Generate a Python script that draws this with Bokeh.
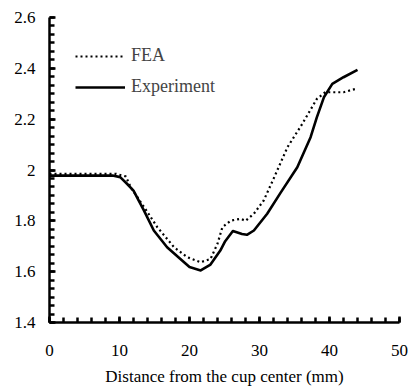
from bokeh.plotting import figure
from bokeh.models import Range1d, Legend, LegendItem, CustomJSTickFormatter, SingleIntervalTicker
from bokeh.embed import file_html
from bokeh.resources import INLINE

fea_x = [0, 9.5, 10.9, 11.6, 14, 15.4, 17.8, 19.7, 21.6, 23, 24, 24.7, 25.9, 27.3, 28, 29.2, 30.6, 32, 34, 36.1, 38.2, 39.4, 42, 43.7]
fea_y = [1.985, 1.985, 1.975, 1.932, 1.834, 1.775, 1.696, 1.657, 1.637, 1.65, 1.71, 1.775, 1.801, 1.808, 1.80, 1.828, 1.88, 1.965, 2.09, 2.181, 2.28, 2.306, 2.306, 2.319]

exp_x = [0, 9, 10.1, 11.1, 12, 13.5, 14.9, 16.8, 18.7, 20, 21.6, 23, 24.4, 25.1, 26.2, 27.5, 28.2, 29.2, 31.1, 33, 35.4, 37.3, 38.2, 39.2, 40.4, 42, 44]
exp_y = [1.978, 1.978, 1.972, 1.945, 1.919, 1.84, 1.762, 1.696, 1.65, 1.618, 1.605, 1.628, 1.683, 1.72, 1.76, 1.748, 1.745, 1.762, 1.828, 1.91, 2.011, 2.129, 2.208, 2.286, 2.339, 2.365, 2.394]

x_label = "Distance from the cup center (mm)"
series_names = ["FEA", "Experiment"]

FONT = "Liberation Serif"

p = figure(width=411, height=389, output_backend="svg", toolbar_location=None,
           x_range=Range1d(0, 50), y_range=Range1d(1.4, 2.6))
p.min_border_left = 49
p.min_border_right = 12
p.min_border_top = 17
p.min_border_bottom = 67
p.outline_line_color = None
p.xgrid.visible = False
p.ygrid.visible = False
p.background_fill_color = None
p.background_fill_alpha = 0
p.border_fill_color = "white"

r_fea = p.line(fea_x, fea_y, line_color="black", line_width=2.2, line_dash="2 3")
r_exp = p.line(exp_x, exp_y, line_color="black", line_width=2.6, line_join="round")

xa = p.xaxis[0]
ya = p.yaxis[0]
for ax in (xa, ya):
    ax.axis_line_width = 2.5
    ax.axis_line_color = "black"
    ax.major_tick_in = 6
    ax.major_tick_out = 0
    ax.minor_tick_in = 5
    ax.minor_tick_out = 0
    ax.major_tick_line_width = 2.5
    ax.minor_tick_line_width = 2.5
    ax.major_tick_line_color = "black"
    ax.minor_tick_line_color = "black"
    ax.major_label_text_font = FONT
    ax.major_label_text_font_size = "17px"
    ax.major_label_text_color = "black"

xa.ticker = SingleIntervalTicker(interval=10, num_minor_ticks=5)
ya.ticker = SingleIntervalTicker(interval=0.2, num_minor_ticks=6)
xa.major_label_standoff = 22
ya.major_label_standoff = 14
xa.formatter = CustomJSTickFormatter(code="return String(Math.round(tick));")
ya.formatter = CustomJSTickFormatter(code="return String(Math.round(tick*10)/10);")
xa.axis_label = x_label
xa.axis_label_text_font = FONT
xa.axis_label_text_font_size = "17px"
xa.axis_label_text_font_style = "normal"
xa.axis_label_text_color = "black"
xa.axis_label_standoff = 8

legend = Legend(items=[LegendItem(label=series_names[0], renderers=[r_fea]),
                       LegendItem(label=series_names[1], renderers=[r_exp])],
                location=(26, 225), padding=0, margin=0, spacing=10,
                glyph_width=50, glyph_height=20, label_height=20,
                label_standoff=6, border_line_alpha=0, background_fill_alpha=0,
                label_text_font=FONT, label_text_font_size="18px")
p.add_layout(legend)

open("out.html", "w").write(file_html(p, INLINE))
